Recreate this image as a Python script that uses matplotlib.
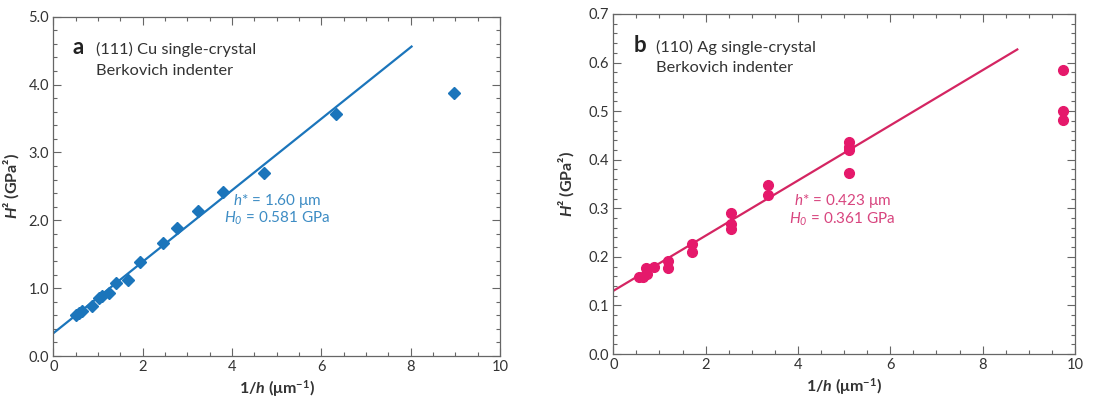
import matplotlib
matplotlib.use("Agg")
import matplotlib.pyplot as plt
from matplotlib.ticker import MultipleLocator, FormatStrFormatter

FONT = 'Lato'
plt.rcParams['font.family'] = [FONT, 'DejaVu Sans']
plt.rcParams['mathtext.fontset'] = 'custom'
plt.rcParams['mathtext.it'] = FONT + ':italic:bold'
plt.rcParams['mathtext.sf'] = FONT + ':italic'
plt.rcParams['mathtext.rm'] = FONT
plt.rcParams['mathtext.bf'] = FONT + ':bold'

# ---- Data: (111) Cu single crystal ----
cu_x = [0.51, 0.58, 0.65, 0.86, 1.02, 1.10, 1.24, 1.41, 1.68, 1.95, 2.46, 2.78, 3.25, 3.81, 4.72, 6.32, 8.96]
cu_y = [0.60, 0.63, 0.66, 0.74, 0.85, 0.88, 0.93, 1.07, 1.12, 1.38, 1.66, 1.88, 2.13, 2.42, 2.70, 3.56, 3.87]
cu_fit_x = [0.0, 8.02]
cu_fit_y = [0.335, 4.56]

# ---- Data: (110) Ag single crystal ----
ag_x = [0.56, 0.64, 0.71, 0.73, 0.88, 1.19, 1.19, 1.70, 1.70, 2.56, 2.56, 2.56,
        3.34, 3.34, 5.11, 5.11, 5.11, 5.11, 9.75, 9.75, 9.75]
ag_y = [0.159, 0.159, 0.177, 0.165, 0.179, 0.191, 0.178, 0.226, 0.209, 0.291, 0.268, 0.258,
        0.347, 0.328, 0.436, 0.427, 0.419, 0.372, 0.585, 0.500, 0.481]
ag_fit_x = [0.0, 8.75]
ag_fit_y = [0.130, 0.627]

blue = '#1b75bb'
blue_txt = '#3d8cc4'
pink = '#e5196b'
pink_line = '#d42562'
pink_txt = '#d8457f'
spine_c = '#666666'
text_c = '#333333'

fig = plt.figure(figsize=(11.0, 4.01), dpi=100)
ax1 = fig.add_axes([53.3/1100, 1-356/401, 446.7/1100, 339.3/401])
ax2 = fig.add_axes([613.3/1100, 1-354/401, 461.7/1100, 340/401])


def style(ax, ymax, ymaj, ymin, yfmt, ylab_x):
    ax.set_xlim(0, 10)
    ax.set_ylim(0, ymax)
    ax.xaxis.set_major_locator(MultipleLocator(2))
    ax.xaxis.set_minor_locator(MultipleLocator(0.5))
    ax.yaxis.set_major_locator(MultipleLocator(ymaj))
    ax.yaxis.set_minor_locator(MultipleLocator(ymin))
    ax.yaxis.set_major_formatter(FormatStrFormatter(yfmt))
    ax.tick_params(which='both', direction='in', top=True, right=True,
                   color=spine_c, width=0.8, labelcolor=text_c, labelsize=10.5)
    ax.tick_params(which='major', length=6, pad=3)
    ax.tick_params(which='minor', length=3)
    for s in ax.spines.values():
        s.set_color(spine_c)
        s.set_linewidth(0.9)
    ax.set_xlabel(r'1/$h$ (μm$^{\mathbf{-1}}$)', fontsize=11.5, fontweight='bold', color=text_c, labelpad=3)
    ax.set_ylabel(r'$H$² (GPa²)', fontsize=11.5, fontweight='bold', color=text_c)
    ax.yaxis.set_label_coords(ylab_x, 0.5)


style(ax1, 5.0, 1.0, 0.2, '%.1f', -0.073)
style(ax2, 0.7, 0.1, 0.02, '%.1f', -0.081)

ax1.plot(cu_fit_x, cu_fit_y, color=blue, lw=1.6, zorder=2)
ax1.plot(cu_x, cu_y, ls='none', marker='D', ms=5.8, color=blue, mec=blue, zorder=3)

ax2.plot(ag_fit_x, ag_fit_y, color=pink_line, lw=1.6, zorder=2)
ax2.plot(ag_x, ag_y, ls='none', marker='o', ms=7, color=pink, mec=pink, zorder=3)

# Panel titles
ax1.text(0.044, 0.889, 'a', transform=ax1.transAxes, fontsize=16, fontweight='bold',
         color='#222222', va='baseline', ha='left')
ax1.text(0.096, 0.889, '(111) Cu single-crystal', transform=ax1.transAxes,
         fontsize=11.8, color='#333333', va='baseline', ha='left')
ax1.text(0.096, 0.828, 'Berkovich indenter', transform=ax1.transAxes,
         fontsize=11.8, color='#333333', va='baseline', ha='left')
ax2.text(0.045, 0.889, 'b', transform=ax2.transAxes, fontsize=16, fontweight='bold',
         color='#222222', va='baseline', ha='left')
ax2.text(0.0925, 0.889, '(110) Ag single-crystal', transform=ax2.transAxes,
         fontsize=11.8, color='#333333', va='baseline', ha='left')
ax2.text(0.0925, 0.830, 'Berkovich indenter', transform=ax2.transAxes,
         fontsize=11.8, color='#333333', va='baseline', ha='left')

# Fit annotations
ax1.text(5.0, 2.29, r'$\mathsf{h}$* = 1.60 μm', fontsize=11, color=blue_txt, ha='center', va='center')
ax1.text(5.0, 2.03, r'$\mathsf{H_0}$ = 0.581 GPa', fontsize=11, color=blue_txt, ha='center', va='center')
ax2.text(4.97, 0.315, r'$\mathsf{h}$* = 0.423 μm', fontsize=11, color=pink_txt, ha='center', va='center')
ax2.text(4.95, 0.278, r'$\mathsf{H_0}$ = 0.361 GPa', fontsize=11, color=pink_txt, ha='center', va='center')

fig.savefig('out.png', dpi=100)
